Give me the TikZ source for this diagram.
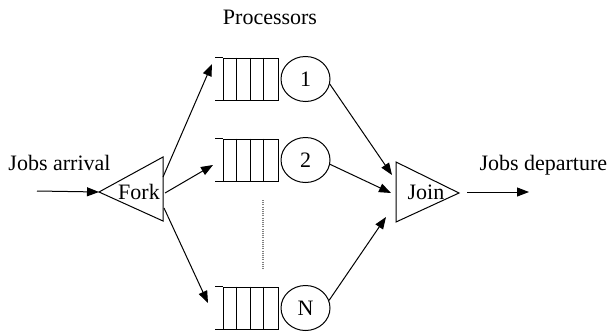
\documentclass[tikz,border=0pt]{standalone}
\usepackage{fontspec}
\setmainfont{Liberation Serif}
\usetikzlibrary{arrows.meta,positioning,shapes.geometric}

\begin{document}
\begin{tikzpicture}[x=0.5pt,y=-0.5pt,line width=0.5pt,
  font=\fontsize{11}{13}\selectfont,
  >={Triangle[length=6pt,width=4.5pt]}]
\tikzstyle{buffer}=[rectangle,draw,minimum width=27.5pt,minimum height=21pt,inner sep=0pt]
\tikzstyle{server}=[ellipse,draw,minimum width=24.5pt,minimum height=22.5pt,inner sep=0pt]
\tikzstyle{label}=[inner sep=0pt]

\useasboundingbox (0,0) rectangle (608,332);

% fork
\coordinate (forkTip) at (99,192);
\coordinate (forkTop) at (163,157);
\coordinate (forkBot) at (163,221);
\draw (forkTip) -- (forkTop) -- (forkBot) -- cycle;
\node[label] (fork) at (139,192) {Fork};

\node[label,anchor=west] (arrival) at (8,163) {Jobs arrival};
\coordinate (arrive) at (37,191);
\draw[->] (arrive) -- (forkTip);

% queues with their servers
\foreach \n/\y in {1/79,2/160,N/308}{
  \node[buffer] (q\n) at (250.5,\y) {};
  \draw (q\n.north west) -- ++(-8,0);
  \draw (q\n.south west) -- ++(-8,0);
  \foreach \i in {1,2,3}
    \draw ([xshift=\i*6.875pt]q\n.north west) -- ([xshift=\i*6.875pt]q\n.south west);
  \node[server,right=1pt of q\n] (s\n) {\n};
}

\node[label] (proc) at (270,17) {Processors};
\draw[gray,line width=0.6pt,dash pattern=on 0.5pt off 0.6pt] (263,200) -- (263,269);

% fork -> queues
\coordinate (f1) at (163,177);
\coordinate (f2) at (165,193);
\coordinate (fN) at (164,208);
\coordinate (in1) at (212,64);
\coordinate (in2) at (213,165);
\coordinate (inN) at (208,303);
\draw[->] (f1) -- (in1);
\draw[->] (f2) -- (in2);
\draw[->] (fN) -- (inN);

% join
\coordinate (joinTop) at (396,162);
\coordinate (joinBot) at (396,222);
\coordinate (joinTip) at (459,193);
\draw (joinTop) -- (joinTip) -- (joinBot) -- cycle;
\node[label] (join) at (426,192) {Join};

\coordinate (j1) at (392,175);
\coordinate (j2) at (391,193);
\coordinate (jN) at (386,217);
\draw[->] (s1.-12) -- (j1);
\draw[->] (s2.-10) -- (j2);
\draw[->] (sN.18) -- (jN);

% departure
\coordinate (leave) at (467,192);
\coordinate (away) at (529,192);
\draw[->] (leave) -- (away);
\node[label,anchor=west] (departure) at (479,165) {Jobs departure};

\end{tikzpicture}
\end{document}
